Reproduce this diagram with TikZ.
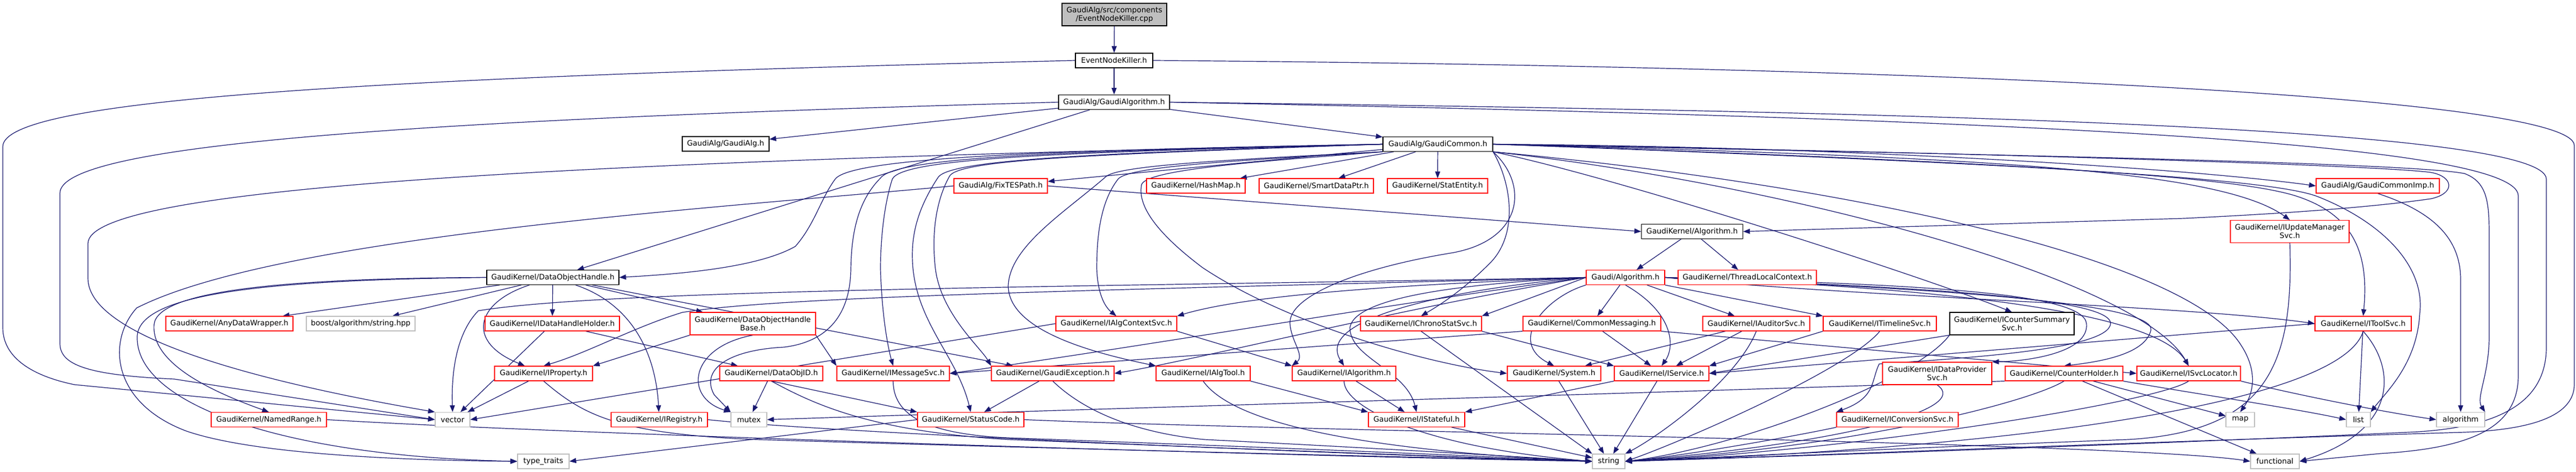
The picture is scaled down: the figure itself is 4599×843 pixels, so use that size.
\documentclass[tikz,border=0pt]{standalone}
\usepackage{fontspec}
\setmainfont{DejaVu Sans}
\usetikzlibrary{arrows.meta}
\definecolor{edgec}{HTML}{191970}
\definecolor{redc}{HTML}{FF0000}
\definecolor{grayc}{HTML}{BFBFBF}
\pgfdeclarelayer{bg}
\pgfsetlayers{bg,main}
\begin{document}
\begin{tikzpicture}[x=1pt,y=-1pt,
  nd/.style={draw, fill=white, line width=1.2pt, inner sep=0pt, align=center, minimum height=26pt, font=\fontsize{13.3}{15}\selectfont, text=black},
  bk/.style={nd, draw=black},
  rd/.style={nd, draw=redc},
  gy/.style={nd, draw=grayc},
  ed/.style={draw=edgec, line width=1.2pt, -{Triangle[length=12pt,width=9pt]}}]
\useasboundingbox (0,0) rectangle (4599,843);
% ---------- nodes ----------
\node[bk, fill=grayc, minimum width=187pt, minimum height=40pt] (root) at (1989.5,26) {GaudiAlg/src/components\\/EventNodeKiller.cpp};
\node[bk, minimum width=138pt] (enk) at (1989,108) {EventNodeKiller.h};
\node[bk, minimum width=198pt] (galg) at (1989,182.5) {GaudiAlg/GaudiAlgorithm.h};
\node[bk, minimum width=155pt] (galgh) at (1295.5,257) {GaudiAlg/GaudiAlg.h};
\node[bk, minimum width=196pt] (gcom) at (2567,257.5) {GaudiAlg/GaudiCommon.h};
\node[rd, minimum width=167pt] (fix) at (1786.5,332) {GaudiAlg/FixTESPath.h};
\node[rd, minimum width=176pt] (hash) at (2135,332) {GaudiKernel/HashMap.h};
\node[rd, minimum width=204pt] (sdp) at (2350,332) {GaudiKernel/SmartDataPtr.h};
\node[rd, minimum width=179pt] (stat) at (2566.5,332) {GaudiKernel/StatEntity.h};
\node[rd, minimum width=220pt] (gcimp) at (4245,332) {GaudiAlg/GaudiCommonImp.h};
\node[bk, minimum width=181pt] (kalg) at (3021,413.5) {GaudiKernel/Algorithm.h};
\node[rd, minimum width=212pt, minimum height=40pt] (ium) at (4088,413.5) {GaudiKernel/IUpdateManager\\Svc.h};
\node[bk, minimum width=236pt] (doh) at (987,495.5) {GaudiKernel/DataObjectHandle.h};
\node[rd, minimum width=140pt] (galgo) at (2902,495.5) {Gaudi/Algorithm.h};
\node[rd, minimum width=247pt] (tlc) at (3119.5,495.5) {GaudiKernel/ThreadLocalContext.h};
% row 578
\node[rd, minimum width=227pt] (adw) at (409.5,578) {GaudiKernel/AnyDataWrapper.h};
\node[gy, minimum width=194pt] (boost) at (644,578) {boost/algorithm/string.hpp};
\node[rd, minimum width=240pt] (idhh) at (986,578) {GaudiKernel/IDataHandleHolder.h};
\node[rd, minimum width=224pt, minimum height=40pt] (dohb) at (1344,578) {GaudiKernel/DataObjectHandle\\Base.h};
\node[rd, minimum width=216pt] (iacs) at (1993,578) {GaudiKernel/IAlgContextSvc.h};
\node[rd, minimum width=216pt] (icss) at (2537,578) {GaudiKernel/IChronoStatSvc.h};
\node[rd, minimum width=246pt] (cmsg) at (2842,578) {GaudiKernel/CommonMessaging.h};
\node[rd, minimum width=191pt] (iaud) at (3135.5,578) {GaudiKernel/IAuditorSvc.h};
\node[rd, minimum width=202pt] (itl) at (3356,578) {GaudiKernel/ITimelineSvc.h};
\node[bk, minimum width=222pt, minimum height=40pt] (icsum) at (3592,578) {GaudiKernel/ICounterSummary\\Svc.h};
\node[rd, minimum width=172pt] (itool) at (4219,578) {GaudiKernel/IToolSvc.h};
% row 667
\node[rd, minimum width=175pt] (iprop) at (970.5,667) {GaudiKernel/IProperty.h};
\node[rd, minimum width=184pt] (doid) at (1377,667) {GaudiKernel/DataObjID.h};
\node[rd, minimum width=201pt] (imsg) at (1594.5,667) {GaudiKernel/IMessageSvc.h};
\node[rd, minimum width=219pt] (gexc) at (1879.5,667) {GaudiKernel/GaudiException.h};
\node[rd, minimum width=168pt] (ialgt) at (2148,667) {GaudiKernel/IAlgTool.h};
\node[rd, minimum width=185pt] (ialg) at (2399.5,667) {GaudiKernel/IAlgorithm.h};
\node[rd, minimum width=167pt] (sys) at (2774.5,667) {GaudiKernel/System.h};
\node[rd, minimum width=169pt] (isvc) at (2966.5,667) {GaudiKernel/IService.h};
\node[rd, minimum width=195pt, minimum height=40pt] (idps) at (3458.5,667) {GaudiKernel/IDataProvider\\Svc.h};
\node[rd, minimum width=210pt] (ch) at (3685,667) {GaudiKernel/CounterHolder.h};
\node[rd, minimum width=185pt] (isl) at (3907.5,667) {GaudiKernel/ISvcLocator.h};
% row 750
\node[rd, minimum width=206pt] (nr) at (480,749.5) {GaudiKernel/NamedRange.h};
\node[gy, minimum width=62pt] (vec) at (808,749.5) {vector};
\node[rd, minimum width=172pt] (ireg) at (1177,749.5) {GaudiKernel/IRegistry.h};
\node[gy, minimum width=64pt] (mtx) at (1337,749.5) {mutex};
\node[rd, minimum width=190pt] (sc) at (1733,749.5) {GaudiKernel/StatusCode.h};
\node[rd, minimum width=172pt] (istf) at (2529,749.5) {GaudiKernel/IStateful.h};
\node[rd, minimum width=217pt] (iconv) at (3387.5,749.5) {GaudiKernel/IConversionSvc.h};
\node[gy, minimum width=51pt] (map) at (3999.5,749.5) {map};
\node[gy, minimum width=43pt] (lst) at (4210.5,749.5) {list};
\node[gy, minimum width=86pt] (alg) at (4393,749.5) {algorithm};
% row 824
\node[gy, minimum width=92pt] (tt) at (970,824) {type\_traits};
\node[gy, minimum width=58pt] (str) at (2872,824) {string};
\node[gy, minimum width=87pt] (fn) at (4061.5,824) {functional};
% ---------- edges ----------
\begin{pgfonlayer}{bg}
\fill[white] (0,0) rectangle (4599,843);
\draw[ed] (root) -- (enk);
\draw[ed] (enk) -- (galg);
\draw[ed] (enk.west) .. controls (600,140) and (5,180) .. (5,262) -- (5,585) .. controls (5,640) and (60,672) .. (133,687) -- (vec.west);
\draw[ed] (enk.east) .. controls (3400,118) and (4596,170) .. (4596,260) -- (4596,686) .. controls (4596,750) and (4500,768) .. (4400,772) .. controls (3800,790) and (3200,815) .. (str.east);
\draw[ed] (galg) -- (galgh);
\draw[ed] (galg) -- (gcom);
\draw[ed] (galg) -- (doh);
\draw[ed] (galg.west) .. controls (700,215) and (107,260) .. (107,345) -- (107,613) .. controls (107,650) and (150,670) .. (311,677) -- (vec.west);
\draw[ed] (galg.east) .. controls (3500,200) and (4546,230) .. (4546,320) -- (4546,620) .. controls (4546,720) and (4460,765) .. (4300,772) .. controls (3800,795) and (3200,815) .. (str.east);
\draw[ed] (galg.east) .. controls (3500,210) and (4496,250) .. (4496,350) -- (4496,670) .. controls (4496,760) and (4420,800) .. (4250,810) -- (fn.east);
% GaudiCommon
\draw[ed] (gcom) -- (fix);
\draw[ed] (gcom) -- (hash);
\draw[ed] (gcom) -- (sdp);
\draw[ed] (gcom) -- (stat);
\draw[ed] (gcom.west) .. controls (900,290) and (157,340) .. (157,435) -- (157,497) .. controls (157,600) and (450,680) .. (vec.north west);
\draw[ed] (gcom.east) .. controls (3300,262) and (3900,300) .. (gcimp.west);
\draw[ed] (gcom.east) .. controls (3500,280) and (3960,300) .. (ium.north);
\draw[ed] (gcom.east) .. controls (3500,272) and (4250,295) .. (4340,308) .. controls (4380,315) and (4385,345) .. (4340,355) .. controls (4200,375) and (4000,385) .. (3900,390) -- (kalg.east);
\draw[ed] (gcom.west) .. controls (1900,268) and (1520,280) .. (1491,320) .. controls (1465,355) and (1455,400) .. (1420,440) .. controls (1350,480) and (1200,490) .. (doh.east);
\draw[ed] (gcom.west) .. controls (1900,270) and (1600,280) .. (1572,318) .. controls (1530,360) and (1520,420) .. (1519,480) .. controls (1518,560) and (1480,610) .. (1400,620) .. controls (1300,625) and (1250,660) .. (1275,705) -- (mtx.north west);
\draw[ed] (gcom.west) .. controls (1900,272) and (1610,282) .. (1593,320) .. controls (1580,360) and (1572,420) .. (1572,480) .. controls (1574,560) and (1585,620) .. (imsg.north);
\draw[ed] (gcom.west) .. controls (1950,274) and (1690,285) .. (1674,318) .. controls (1640,370) and (1624,420) .. (1630,480) .. controls (1640,580) and (1710,640) .. (sc.north);
\draw[ed] (gcom.west) .. controls (1950,276) and (1710,285) .. (1695,315) .. controls (1670,360) and (1663,420) .. (1670,480) .. controls (1680,560) and (1750,620) .. (gexc.north west);
\draw[ed] (gcom.south west) .. controls (2200,285) and (2000,295) .. (1975,315) .. controls (1900,380) and (1803,440) .. (1800,510) .. controls (1800,590) and (1950,630) .. (ialgt.north west);
\draw[ed] (gcom.south west) .. controls (2250,285) and (2015,295) .. (1996,320) .. controls (1965,360) and (1958,420) .. (1958,480) .. controls (1960,530) and (1975,550) .. (iacs.north);
\draw[ed] (gcom.south west) .. controls (2300,285) and (2045,300) .. (2038,330) .. controls (2030,370) and (2070,420) .. (2147,478) .. controls (2300,580) and (2550,650) .. (sys.west);
\draw[ed] (gcom.south east) .. controls (2700,330) and (2710,420) .. (2660,470) .. controls (2610,520) and (2570,545) .. (icss.north);
\draw[ed] (gcom.south east) .. controls (2730,330) and (2720,430) .. (2590,452) .. controls (2420,480) and (2300,530) .. (2303,578) .. controls (2305,610) and (2330,635) .. (ialg.north west);
\draw[ed] (gcom.south east) .. controls (2900,320) and (3450,500) .. (icsum.north);
\draw[ed] (gcom.east) .. controls (3600,290) and (4000,315) .. (4105,352) .. controls (4200,385) and (4230,450) .. (itool.north);
\draw[ed] (gcom.east) .. controls (3600,292) and (4060,318) .. (4140,352) .. controls (4260,400) and (4330,480) .. (4320,560) .. controls (4315,650) and (4260,700) .. (lst.north east);
\draw[ed] (gcom.east) .. controls (3500,275) and (4300,290) .. (4400,310) .. controls (4440,325) and (4444,360) .. (4444,420) -- (4444,600) .. controls (4444,670) and (4420,710) .. (alg.north east);
\draw[ed] (gcom.south east) .. controls (3300,330) and (3900,460) .. (4000,615) .. controls (4030,660) and (4025,700) .. (map.north);
\draw[ed] (gcom.south east) .. controls (3200,330) and (3820,500) .. (isl.north);
% FixTESPath, Algorithm
\draw[ed] (fix.east) -- (kalg.west);
\draw[ed] (fix.west) .. controls (1300,370) and (500,420) .. (244,550) .. controls (190,610) and (200,720) .. (333,770) .. controls (450,810) and (700,822) .. (tt.west);
\draw[ed] (kalg) -- (galgo);
\draw[ed] (kalg) -- (tlc);
% DataObjectHandle
\draw[ed] (doh) -- (adw);
\draw[ed] (doh) -- (boost);
\draw[ed] (doh) -- (idhh);
\draw[ed] (doh) -- (dohb);
\draw[ed] (doh) .. controls (850,540) and (830,610) .. (iprop);
\draw[ed] (doh) .. controls (1120,540) and (1170,620) .. (ireg);
\draw[ed] (doh.west) .. controls (500,497) and (280,520) .. (275,580) .. controls (270,650) and (380,700) .. (nr.north);
\draw[ed] (doh.west) .. controls (500,500) and (250,520) .. (245,600) .. controls (240,720) and (500,815) .. (tt.west);
\draw[ed] (doh) -- (gexc);
% Gaudi/Algorithm
\draw[ed] (galgo.west) .. controls (2000,512) and (1100,515) .. (854,555) .. controls (810,600) and (806,680) .. (vec.north);
\draw[ed] (galgo.west) .. controls (2000,518) and (1400,528) .. (1218,558) .. controls (1130,585) and (1050,630) .. (iprop.north);
\draw[ed] (galgo.west) .. controls (2600,505) and (2250,520) .. (iacs.north east);
\draw[ed] (galgo.west) -- (icss.north east);
\draw[ed] (galgo.west) .. controls (2500,540) and (2000,625) .. (imsg.east);
\draw[ed] (galgo.west) .. controls (2500,550) and (2150,640) .. (gexc.east);
\draw[ed] (galgo.south west) .. controls (2760,530) and (2690,610) .. (sys.north);
\draw[ed] (galgo) -- (cmsg);
\draw[ed] (galgo.south) .. controls (2990,560) and (2990,620) .. (isvc.north);
\draw[ed] (galgo) -- (iaud);
\draw[ed] (galgo.south east) -- (itl.north west);
\draw[ed] (galgo.west) .. controls (2650,505) and (2420,525) .. (2410,585) .. controls (2410,640) and (2510,660) .. (istf.north);
\draw[ed] (galgo.west) .. controls (2650,510) and (2340,560) .. (ialg.north);
\draw[ed] (galgo.east) .. controls (3400,508) and (3720,520) .. (3725,578) .. controls (3730,630) and (3620,645) .. (idps.north east);
\draw[ed] (galgo.east) .. controls (3400,512) and (3770,530) .. (3768,578) .. controls (3765,625) and (3500,640) .. (3355,650) .. controls (3340,680) and (3350,710) .. (iconv.north west);
\draw[ed] (galgo.east) .. controls (3450,515) and (3850,540) .. (3840,590) .. controls (3830,630) and (3760,645) .. (ch.north);
\draw[ed] (galgo.east) .. controls (3500,515) and (3850,560) .. (isl.north);
\draw[ed] (galgo.east) .. controls (3300,530) and (3900,545) .. (itool.west);
% middle rows
\draw[ed] (idhh) -- (vec);
\draw[ed] (idhh) -- (doid);
\draw[ed] (dohb.south west) -- (iprop.north east);
\draw[ed] (dohb.south) .. controls (1230,620) and (1220,710) .. (mtx.north west);
\draw[ed] (dohb.south east) -- (imsg.north west);
\draw[ed] (iprop) -- (vec);
\draw[ed] (iprop.south) .. controls (1040,740) and (1100,775) .. (1350,785) .. controls (2000,805) and (2600,818) .. (str.west);
\draw[ed] (doid) -- (mtx);
\draw[ed] (doid.south) -- (sc.north west);
\draw[ed] (doid.south) .. controls (1450,720) and (1550,770) .. (1800,785) .. controls (2300,805) and (2650,818) .. (str.west);
\draw[ed] (imsg.south) .. controls (1595,740) and (1650,775) .. (1800,782) .. controls (2300,800) and (2650,815) .. (str.west);
\draw[ed] (gexc) -- (sc);
\draw[ed] (gexc.south) .. controls (1920,720) and (2000,770) .. (2150,785) .. controls (2450,800) and (2700,815) .. (str.west);
\draw[ed] (sc.west) -- (tt.east);
\draw[ed] (sc.east) .. controls (2300,770) and (3800,790) .. (fn.west);
\draw[ed] (ireg.east) .. controls (1500,775) and (2500,815) .. (str.west);
\draw[ed] (nr.east) .. controls (1000,775) and (2300,815) .. (str.west);
\draw[ed] (iacs.west) -- (vec.east);
\draw[ed] (iacs.south east) -- (ialg.north west);
\draw[ed] (icss.south east) -- (isvc.north west);
\draw[ed] (icss.south) -- (str.north west);
\draw[ed] (ialgt.south east) -- (istf.north west);
\draw[ed] (ialgt.south) .. controls (2190,740) and (2350,800) .. (str.west);
\draw[ed] (ialg) -- (istf);
\draw[ed] (ialg.south) .. controls (2400,730) and (2550,800) .. (str.west);
\draw[ed] (istf) -- (str);
\draw[ed] (sys) -- (str);
\draw[ed] (isvc) -- (str);
\draw[ed] (isvc.south west) -- (istf.north east);
\draw[ed] (cmsg.south west) -- (imsg.east);
\draw[ed] (cmsg) -- (isvc);
\draw[ed] (cmsg.south east) -- (isl.west);
\draw[ed] (iaud) -- (sys);
\draw[ed] (iaud) -- (isvc);
\draw[ed] (iaud.south) .. controls (3100,680) and (2960,780) .. (str.north east);
\draw[ed] (itl.south west) -- (isvc.north east);
\draw[ed] (itl.south) .. controls (3300,660) and (3000,790) .. (str.east);
\draw[ed] (icsum.south west) -- (isvc.east);
\draw[ed] (icsum.south west) .. controls (3420,680) and (3100,800) .. (str.east);
\draw[ed] (idps.south) .. controls (3520,730) and (3300,790) .. (str.east);
\draw[ed] (iconv.south west) .. controls (3200,780) and (3000,815) .. (str.east);
\draw[ed] (ch.south) .. controls (3620,720) and (3300,800) .. (str.east);
\draw[ed] (ch) -- (map);
\draw[ed] (ch.south east) .. controls (3900,700) and (4100,730) .. (lst.west);
\draw[ed] (ch) -- (fn);
\draw[ed] (ch.south west) .. controls (3000,700) and (1800,735) .. (mtx.east);
\draw[ed] (isl.south) .. controls (3850,720) and (3300,805) .. (str.east);
\draw[ed] (isl.south east) .. controls (4100,705) and (4250,735) .. (alg.west);
\draw[ed] (itool) -- (lst);
\draw[ed] (itool.south) .. controls (4280,660) and (4280,770) .. (fn.east);
\draw[ed] (itool.south) .. controls (4180,720) and (3600,800) .. (str.east);
\draw[ed] (itool.west) -- (isvc.east);
\draw[ed] (ium.south) .. controls (4095,650) and (4050,770) .. (3800,785) .. controls (3400,800) and (3100,815) .. (str.east);
\draw[ed] (gcimp.south) .. controls (4350,380) and (4393,430) .. (4393,500) -- (alg.north);
\end{pgfonlayer}
\end{tikzpicture}
\end{document}
